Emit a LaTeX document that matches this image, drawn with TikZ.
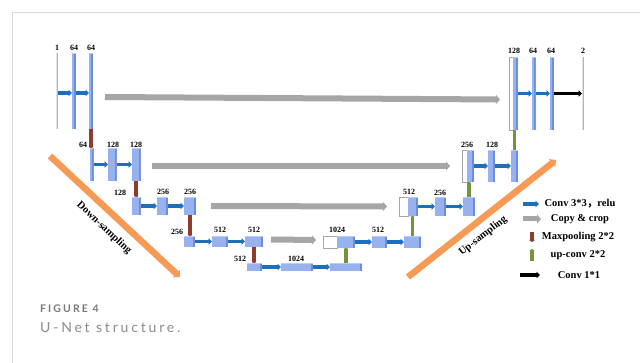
\documentclass[tikz,border=0pt]{standalone}
\usepackage{fontspec}
\setmainfont{Liberation Serif}
\newfontfamily\capfont[LetterSpace=20]{Lato}
\newfontfamily\cjkfont{Noto Sans CJK SC}
\usetikzlibrary{arrows.meta}
\definecolor{boxfront}{HTML}{97B2EE}
\definecolor{boxside}{HTML}{6C8CE0}
\definecolor{boxtop}{HTML}{BACBF5}
\definecolor{thinfront}{HTML}{E2E2E2}
\definecolor{thinside}{HTML}{B5B5B5}
\definecolor{convblue}{HTML}{1E6EBE}
\definecolor{copygray}{HTML}{A6A6A6}
\definecolor{poolbrown}{HTML}{8E3B30}
\definecolor{upgreen}{HTML}{76923C}
\definecolor{sweeporange}{HTML}{F79A55}
\definecolor{framegray}{HTML}{D9D9D9}
\definecolor{capdark}{HTML}{77787B}
\definecolor{caplight}{HTML}{8A8B8E}
\tikzset{
  blk/.style={fill=boxfront, inner sep=0pt, outer sep=0pt, anchor=north west,
    path picture={
      \fill[boxside] ([xshift=-1.6pt]path picture bounding box.north east)
        rectangle (path picture bounding box.south east);
      \fill[boxtop] (path picture bounding box.north west)
        rectangle ([yshift=-1.2pt]path picture bounding box.north east);}},
  thinblk/.style={fill=thinfront, inner sep=0pt, outer sep=0pt, anchor=north west,
    path picture={
      \fill[thinside] ([xshift=-0.8pt]path picture bounding box.north east)
        rectangle (path picture bounding box.south east);}},
  catblk/.style={fill=white, draw=copygray, line width=0.4pt, inner sep=0pt,
    outer sep=0pt, anchor=north west},
  lbl/.style={font=\bfseries\fontsize{8}{9}\selectfont, inner sep=0pt},
  legtext/.style={font=\bfseries\fontsize{10.5}{12}\selectfont, inner sep=0pt},
  sweeptext/.style={font=\bfseries\fontsize{10.5}{12}\selectfont, inner sep=0pt},
  arrconv/.style={draw=convblue, line width=3.2pt, -{Triangle[length=3.5pt,width=6.5pt]}},
  arrcopy/.style={draw=copygray, line width=6pt, -{Triangle[length=4pt,width=9pt]}},
  arrpool/.style={draw=poolbrown, line width=3.6pt, -{Triangle[length=1pt,width=4.5pt]}},
  arrup/.style={draw=upgreen, line width=3.8pt, -{Triangle[length=1pt,width=4.5pt]}},
  arrfinal/.style={draw=black, line width=3.4pt, -{Triangle[length=3.5pt,width=6.5pt]}},
  arrsweep/.style={draw=sweeporange, line width=6.5pt, -{Triangle[length=5pt,width=10pt]}},
}
\begin{document}
\begin{tikzpicture}[x=1pt, y=-1pt]
\useasboundingbox (0,0) rectangle (640,363);
\fill[white] (0,0) rectangle (640,363);
% page frame
\draw[framegray, line width=1pt] (12,363) -- (12,13) -- (640,13);

% ---------- contracting path ----------
\node[thinblk, minimum width=2,   minimum height=76] (a0) at (56,53) {};
\node[blk,     minimum width=4,   minimum height=76] (a1) at (72,53) {};
\node[blk,     minimum width=4,   minimum height=76] (a2) at (89,53) {};
\node[blk, minimum width=3.5, minimum height=33] (b0) at (90,148) {};
\node[blk, minimum width=8.5, minimum height=33] (b1) at (108,148) {};
\node[blk, minimum width=8.5, minimum height=33] (b2) at (132,148) {};
\node[blk, minimum width=8.5, minimum height=18] (c0) at (132,197) {};
\node[blk, minimum width=11,  minimum height=18] (c1) at (157,197) {};
\node[blk, minimum width=12,  minimum height=18] (c2) at (184,197) {};
\node[blk, minimum width=11,  minimum height=11] (d0) at (184,236) {};
\node[blk, minimum width=16,  minimum height=11] (d1) at (212,236) {};
\node[blk, minimum width=18,  minimum height=11] (d2) at (245,236) {};
\node[blk, minimum width=15,  minimum height=8] (e0) at (247,263) {};
\node[blk, minimum width=32,  minimum height=8] (e1) at (281,263) {};
\node[blk, minimum width=32,  minimum height=8] (e2) at (330,263) {};

% ---------- expanding path ----------
\node[catblk, minimum width=14, minimum height=12] (f0w) at (323,236) {};
\node[blk,    minimum width=18, minimum height=12] (f0) at (337,236) {};
\node[blk,    minimum width=15, minimum height=12] (f1) at (372,236) {};
\node[blk,    minimum width=17, minimum height=12] (f2) at (404,236) {};
\node[catblk, minimum width=9,  minimum height=19] (g0w) at (399,197) {};
\node[blk,    minimum width=10, minimum height=19] (g0) at (408,197) {};
\node[blk,    minimum width=11, minimum height=19] (g1) at (435,197) {};
\node[blk,    minimum width=12, minimum height=19] (g2) at (463,197) {};
\node[catblk, minimum width=5,  minimum height=32] (h0w) at (462,150) {};
\node[blk,    minimum width=7,  minimum height=32] (h0) at (467,150) {};
\node[blk,    minimum width=7,  minimum height=32] (h1) at (488,150) {};
\node[blk,    minimum width=7,  minimum height=32] (h2) at (511,150) {};
\node[catblk, minimum width=4,  minimum height=73] (i0w) at (509,57) {};
\node[blk,    minimum width=5,  minimum height=73] (i0) at (513,57) {};
\node[blk,    minimum width=3.5,minimum height=73] (i1) at (532,57) {};
\node[blk,    minimum width=4,  minimum height=73] (i2) at (550,57) {};
\node[thinblk,minimum width=2,  minimum height=73] (i3) at (582,57) {};

% ---------- channel counts ----------
\node[lbl] (la0) at (57,48) {1};
\node[lbl] (la1) at (74,48) {64};
\node[lbl] (la2) at (91,48) {64};
\node[lbl] (lb0) at (83,145) {64};
\node[lbl] (lb1) at (113,145) {128};
\node[lbl] (lb2) at (136,145) {128};
\node[lbl] (lc0) at (120,193) {128};
\node[lbl] (lc1) at (163,192) {256};
\node[lbl] (lc2) at (190,192) {256};
\node[lbl] (ld0) at (177,232) {256};
\node[lbl] (ld1) at (220,230) {512};
\node[lbl] (ld2) at (254,230) {512};
\node[lbl] (le0) at (240,259) {512};
\node[lbl] (le1) at (296,259) {1024};
\node[lbl] (lf0) at (337,230) {1024};
\node[lbl] (lf1) at (378,230) {512};
\node[lbl] (lg0) at (409,192) {512};
\node[lbl] (lg1) at (440,193) {256};
\node[lbl] (lh0) at (467,145) {256};
\node[lbl] (lh1) at (492,145) {128};
\node[lbl] (li0) at (514,51) {128};
\node[lbl] (li1) at (533,51) {64};
\node[lbl] (li2) at (551,51) {64};
\node[lbl] (li3) at (583,51) {2};

% ---------- 3x3 convolutions ----------
\draw[arrconv] ([yshift=-2]a0.east) -- ([yshift=-2]a1.west);
\draw[arrconv] ([yshift=-2]a1.east) -- ([yshift=-2]a2.west);
\draw[arrconv] (b0.east) -- (b1.west);
\draw[arrconv] (b1.east) -- (b2.west);
\draw[arrconv] (c0.east) -- (c1.west);
\draw[arrconv] (c1.east) -- (c2.west);
\draw[arrconv] (d0.east) -- (d1.west);
\draw[arrconv] (d1.east) -- (d2.west);
\draw[arrconv] (e0.east) -- (e1.west);
\draw[arrconv] (e1.east) -- (e2.west);
\draw[arrconv] (f0.east) -- (f1.west);
\draw[arrconv] (f1.east) -- (f2.west);
\draw[arrconv] (g0.east) -- (g1.west);
\draw[arrconv] (g1.east) -- (g2.west);
\draw[arrconv] (h0.east) -- (h1.west);
\draw[arrconv] (h1.east) -- (h2.west);
\draw[arrconv] (i0.east) -- (i1.west);
\draw[arrconv] (i1.east) -- (i2.west);
\draw[arrfinal] (i2.east) -- (i3.west);

% ---------- max pooling ----------
\draw[arrpool] (a2.south) -- (a2.south |- b0.north);
\draw[arrpool] (b2.south) -- (b2.south |- c0.north);
\draw[arrpool] (c2.south) -- (c2.south |- d0.north);
\draw[arrpool] (d2.south) -- (d2.south |- e0.north);

% ---------- up-convolutions ----------
\draw[arrup] (e2.north) -- (e2.north |- f0.south);
\draw[arrup] (f2.north) -- (f2.north |- g0.south);
\draw[arrup] (g2.north) -- (g2.north |- h0.south);
\draw[arrup] (h2.north) -- (h2.north |- i0.south);

% ---------- copy and crop ----------
\draw[arrcopy] ([shift={(12,6)}]a2.east) -- ([shift={(-9,6)}]i0w.west);
\draw[arrcopy] ([shift={(11,1.5)}]b2.east) -- ([shift={(-12,0)}]h0w.west);
\draw[arrcopy] ([shift={(15,0)}]c2.east) -- ([shift={(-12,0)}]g0w.west);
\draw[arrcopy] ([shift={(8,-2)}]d2.east) -- ([shift={(-7,-2)}]f0w.west);

% ---------- sampling direction ----------
\coordinate (dsA) at (50,156);
\coordinate (dsB) at (180,277);
\coordinate (usA) at (408,277);
\coordinate (usB) at (556,160);
\draw[arrsweep] (dsA) -- (dsB);
\draw[arrsweep] (usA) -- (usB);
\node[sweeptext, rotate=-43] (dstext) at (104,228) {Down-sampling};
\node[sweeptext, rotate=38] (ustext) at (483,236) {Up-sampling};

% ---------- legend ----------
\coordinate (k1a) at (523,204); \coordinate (k1b) at (539,204);
\coordinate (k2a) at (523,219); \coordinate (k2b) at (541,219);
\coordinate (k3a) at (532,232); \coordinate (k3b) at (532,242);
\coordinate (k4a) at (532,261); \coordinate (k4b) at (532,249);
\coordinate (k5a) at (520,275); \coordinate (k5b) at (540,275);
\draw[arrconv] (k1a) -- (k1b);
\draw[arrcopy, line width=5pt] (k2a) -- (k2b);
\draw[arrpool, -{Triangle[length=2pt,width=5.5pt]}] (k3a) -- (k3b);
\draw[arrup, -{Triangle[length=2pt,width=5.5pt]}] (k4a) -- (k4b);
\draw[arrfinal] (k5a) -- (k5b);
\node[legtext] (t1) at (580,204) {Conv 3*3{\cjkfont ，}relu};
\node[legtext] (t2) at (580,219) {Copy \& crop};
\node[legtext] (t3) at (578,237) {Maxpooling 2*2};
\node[legtext] (t4) at (578,255) {up-conv 2*2};
\node[legtext] (t5) at (579,275) {Conv 1*1};

% ---------- caption ----------
\node[anchor=base west, inner sep=0pt, text=capdark,
      font=\capfont\bfseries\fontsize{10.5}{12}\selectfont] (cap1) at (40,313) {FIGURE 4};
\node[anchor=base west, inner sep=0pt, text=caplight,
      font=\capfont\fontsize{14}{16}\selectfont] (cap2) at (40,333) {U-Net structure.};
\end{tikzpicture}
\end{document}
